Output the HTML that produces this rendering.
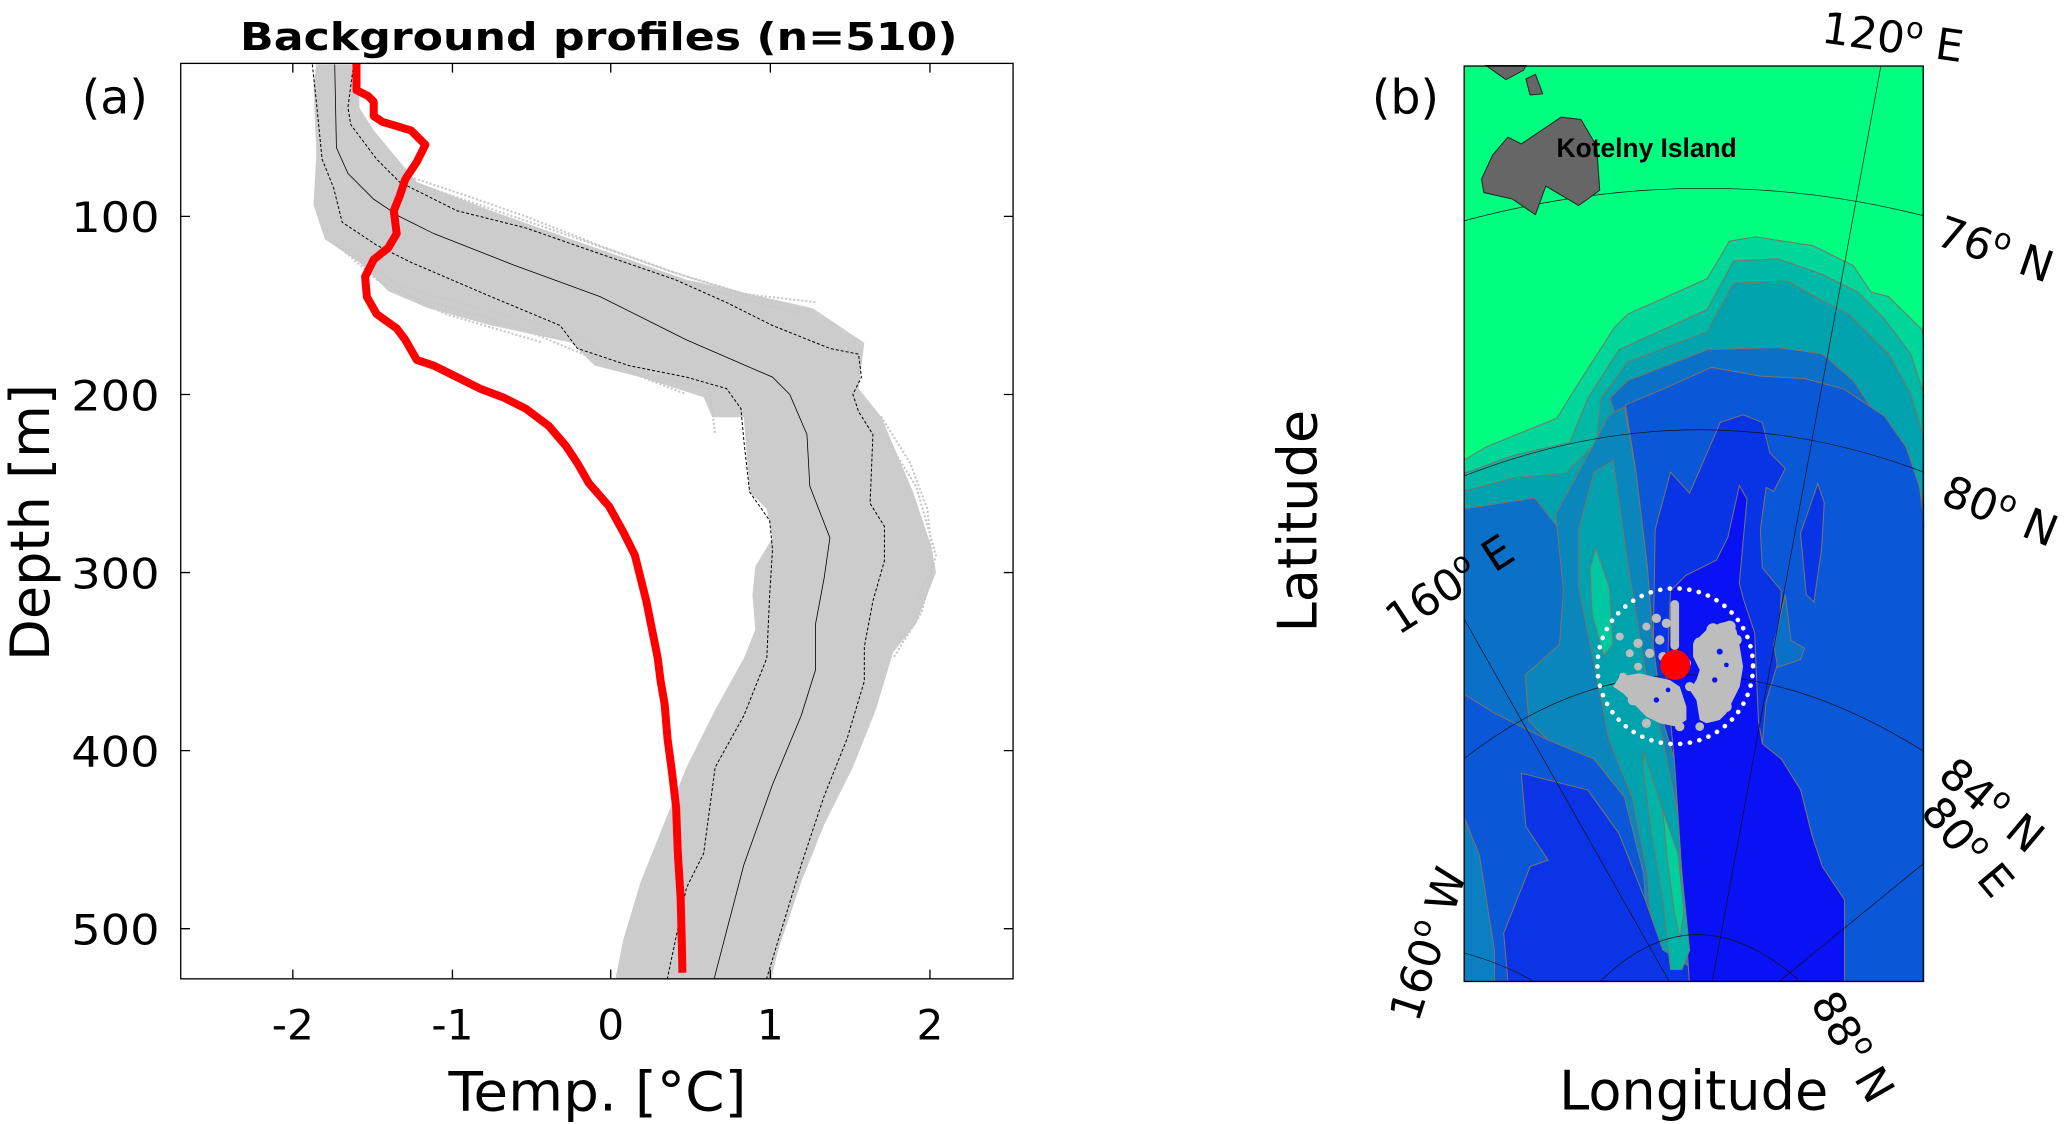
<!DOCTYPE html>
<html><head><meta charset="utf-8"><style>html,body{margin:0;padding:0;background:#fff}svg{display:block}</style></head>
<body>
<svg width="2067" height="1124" viewBox="0 0 1567 852" xmlns="http://www.w3.org/2000/svg" font-family="'DejaVu Sans','Liberation Sans',sans-serif">
<rect width="1567" height="852" fill="#fff"/>
<defs>
<clipPath id="ca"><rect x="137" y="48" width="631" height="694"/></clipPath>
<clipPath id="cb"><rect x="220" y="-613" width="1203" height="2395"/></clipPath>
</defs>
<g clip-path="url(#ca)">
<g transform="translate(128.9,37.9) scale(0.435)">
<polygon fill="#cccccc" points="255,25 250,60 255,180 250,270 270,330 330,370 350,390 380,420 450,450 560,480 700,510 740,550 820,570 930,605 945,640 1000,640 1010,770 1040,800 1050,850 1020,900 1015,950 1020,1010 1000,1060 950,1150 900,1250 860,1350 820,1450 790,1550 770,1650 1040,1650 1060,1568 1100,1450 1140,1350 1190,1250 1230,1150 1260,1050 1300,1000 1335,910 1325,860 1295,770 1265,700 1240,640 1200,590 1210,510 1120,450 900,400 700,330 560,280 430,230 355,140 330,100 330,25"/>
<g fill="none" stroke="#c8c8c8" stroke-width="4" stroke-dasharray="0.1,7" stroke-linecap="round" vector-effect="non-scaling-stroke">
<polyline points="400,215 520,255 620,290 760,345 900,395 1000,425 1130,440"/>
<polyline points="420,230 540,270 700,325 870,385 1050,440"/>
<polyline points="440,245 600,300 780,365 950,420 1100,460"/>
<polyline points="300,340 400,410 500,440 700,490 800,560 940,590 950,670"/>
<polyline points="330,360 420,430 600,480 720,530 900,600"/>
<polyline points="280,330 360,400 480,460 650,510"/>
<polyline points="1240,640 1290,720 1320,800 1330,900 1300,960"/>
<polyline points="1250,680 1300,760 1335,880 1310,980 1260,1060"/>
</g>
<polyline fill="none" stroke="#000" stroke-width="1" vector-effect="non-scaling-stroke" stroke-dasharray="3,2" points="248,25 255,90 265,190 285,240 300,300 360,340 420,370 560,430 680,480 710,520 800,550 900,570 970,590 995,625 1000,680 1010,770 1045,820 1050,870 1045,950 1040,1060 1000,1160 950,1250 930,1400 900,1460 860,1650"/>
<polyline fill="none" stroke="#000" stroke-width="1" vector-effect="non-scaling-stroke" stroke-dasharray="3,2" points="320,25 310,100 315,130 360,190 400,230 500,280 620,310 720,345 880,400 970,440 1050,480 1150,520 1200,530 1205,570 1190,600 1200,630 1225,670 1220,790 1245,830 1245,890 1225,960 1210,1040 1210,1100 1180,1200 1140,1300 1100,1420 1030,1650"/>
<polyline fill="none" stroke="#000" stroke-width="0.8" vector-effect="non-scaling-stroke" points="287,25 290,170 310,215 355,260 400,290 460,320 600,375 750,430 850,480 900,505 1050,570 1080,600 1110,670 1115,760 1150,850 1140,920 1125,1000 1125,1080 1100,1160 1050,1280 1000,1420 940,1650"/>
<polyline fill="none" stroke="#ff0000" stroke-width="8" stroke-linejoin="round" vector-effect="non-scaling-stroke" points="325,20 325,70 345,80 355,90 355,115 370,125 420,140 445,165 430,195 410,225 400,255 390,280 395,320 380,345 355,365 340,395 343,430 360,460 395,485 410,505 430,540 460,550 500,570 540,590 580,605 620,625 660,655 690,690 710,720 730,755 765,795 790,840 810,880 820,920 830,960 840,1010 850,1060 855,1100 862,1140 867,1200 875,1260 882,1320 885,1400 890,1480 892,1560 893,1608"/>
</g></g>
<rect x="137" y="48" width="631" height="694" fill="none" stroke="#000" stroke-width="1"/>
<g stroke="#000" stroke-width="1">
<path d="M222,742v-7M343,742v-7M463,742v-7M584,742v-7M705,742v-7M222,48v7M343,48v7M463,48v7M584,48v7M705,48v7"/>
<path d="M137,164h7M137,299h7M137,434h7M137,569h7M137,704h7M768,164h-7M768,299h-7M768,434h-7M768,569h-7M768,704h-7"/>
</g>
<g font-size="32" fill="#000">
<text x="54" y="176" textLength="67" lengthAdjust="spacingAndGlyphs">100</text>
<text x="54" y="311" textLength="67" lengthAdjust="spacingAndGlyphs">200</text>
<text x="54" y="446" textLength="67" lengthAdjust="spacingAndGlyphs">300</text>
<text x="54" y="581" textLength="67" lengthAdjust="spacingAndGlyphs">400</text>
<text x="54" y="716" textLength="67" lengthAdjust="spacingAndGlyphs">500</text>
</g>
<g font-size="32" text-anchor="middle" fill="#000">
<text x="222" y="788">-2</text><text x="343" y="788">-1</text><text x="463" y="788">0</text><text x="584" y="788">1</text><text x="705" y="788">2</text>
</g>
<text x="340" y="842" font-size="41" textLength="226" lengthAdjust="spacingAndGlyphs">Temp. [°C]</text>
<text transform="translate(37,396) rotate(-90)" font-size="41" text-anchor="middle">Depth [m]</text>
<text x="182" y="38" font-size="29" font-weight="bold" textLength="544" lengthAdjust="spacingAndGlyphs">Background profiles (n=510)</text>
<text x="62" y="86" font-size="36">(a)</text>
<text x="1040" y="86" font-size="36">(b)</text>
<g transform="translate(1046,227.4) scale(0.29)">
<g clip-path="url(#cb)">
<rect x="220" y="-613" width="1203" height="2395" fill="#00ff80"/>
<g stroke="#7d7465" stroke-width="1">
<polygon fill="#00d69a" vector-effect="non-scaling-stroke" points="220,419 278,384 463,309 509,234 613,72 648,37 856,-56 914,-154 983,-165 1133,-142 1238,-90 1284,-21 1330,-9 1417,77 1426,130 1426,1790 220,1790"/>
<polygon fill="#00b8a6" vector-effect="non-scaling-stroke" points="220,453 347,407 497,372 544,257 625,130 856,25 925,-102 1041,-108 1157,-67 1249,-21 1319,49 1388,141 1426,257 1426,1790 220,1790"/>
<polygon fill="#00a2ae" vector-effect="non-scaling-stroke" points="220,500 347,465 486,453 567,372 578,257 648,162 856,83 925,-44 1064,-50 1157,2 1226,37 1330,141 1388,245 1426,372 1426,1790 220,1790"/>
<polygon fill="#0a70c8" vector-effect="non-scaling-stroke" points="220,546 405,517 470,600 480,760 470,900 380,980 390,1100 440,1150 500,1270 580,1380 640,1500 700,1790 220,1790"/>
<polygon fill="#0a70c8" vector-effect="non-scaling-stroke" points="601,257 648,211 856,130 1041,124 1157,141 1238,211 1307,315 1388,419 1426,546 1426,1790 810,1790 790,1500 770,1200 740,1100 715,900 700,700 670,450"/>
<polygon fill="#0a86bc" vector-effect="non-scaling-stroke" points="460,560 520,450 600,300 640,280 670,450 700,700 715,900 740,1100 770,1200 790,1500 810,1790 700,1790 640,1500 580,1380 500,1270 440,1150 390,1100 380,980 470,900 480,760"/>
<polygon fill="#00a2ae" vector-effect="non-scaling-stroke" points="520,600 560,450 610,420 650,700 700,1000 740,1150 790,1400 800,1790 720,1790 700,1500 660,1300 600,1150 560,950 520,750"/>
<polygon fill="#0a58d8" vector-effect="non-scaling-stroke" points="642,274 740,233 867,176 995,199 1110,205 1214,233 1319,303 1376,384 1411,488 1426,604 1426,1790 810,1790 790,1500 770,1200 740,1100 715,900 700,700 670,450"/>
<polygon fill="#0a58d8" vector-effect="non-scaling-stroke" points="220,1030 300,1080 440,1150 560,1200 640,1300 690,1500 710,1790 220,1790"/>
<polygon fill="#0a34e6" vector-effect="non-scaling-stroke" points="370,1237 544,1281 625,1394 694,1568 740,1699 810,1742 833,1790 336,1790 324,1655 393,1481 440,1464 382,1376"/>
<polygon fill="#0a80c2" vector-effect="non-scaling-stroke" points="220,1350 260,1450 300,1700 300,1790 220,1790"/>
<polygon fill="#0834e6" vector-effect="non-scaling-stroke" points="720,600 760,450 810,505 890,320 950,300 1000,320 1020,400 1060,440 1030,500 1010,490 995,600 1000,700 1050,760 1040,950 1010,1050 1000,1160 1050,1200 1100,1280 1130,1400 1140,1568 1150,1790 810,1790 790,1500 770,1200 740,1100 715,900"/>
<polygon fill="#0812f4" vector-effect="non-scaling-stroke" points="940,485 960,520 940,740 950,780 980,870 990,1100 1000,1160 1050,1200 1100,1280 1130,1400 1157,1481 1215,1568 1215,1790 810,1790 790,1500 770,1200 760,1100 750,1000 760,760 800,720 880,680 910,620"/>
<polygon fill="#0834e6" vector-effect="non-scaling-stroke" points="1145,480 1162,530 1155,650 1135,790 1115,770 1100,610"/>
<polygon fill="#0a70c8" vector-effect="non-scaling-stroke" points="1060,770 1075,890 1110,910 1100,940 1040,960 1030,900"/>
<polygon fill="#00c8a0" vector-effect="non-scaling-stroke" points="565,650 600,750 610,900 585,930 555,820 550,700"/>
<polygon fill="#00b4a8" vector-effect="non-scaling-stroke" points="690,1180 740,1333 790,1500 810,1700 790,1750 760,1750 740,1568 710,1394 688,1220"/>
<polygon fill="#00d09c" vector-effect="non-scaling-stroke" points="740,1333 780,1450 795,1600 785,1670 770,1600 750,1450"/>
</g>
<g fill="none" stroke="#111" stroke-width="0.7" vector-effect="non-scaling-stroke">
<path d="M202,-202 Q833,-376 1446,-214" vector-effect="non-scaling-stroke"/>
<path d="M195,470 Q820,216 1435,455" vector-effect="non-scaling-stroke"/>
<path d="M200,1215 Q760,760 1430,1185" vector-effect="non-scaling-stroke"/>
<path d="M553,1805 Q824,1513 1124,1805" vector-effect="non-scaling-stroke"/>
<path d="M202,1702 Q346,1739 438,1805" vector-effect="non-scaling-stroke"/>
<path d="M1314,-633 L865,1805" vector-effect="non-scaling-stroke"/>
<path d="M210,815 L770,1805" vector-effect="non-scaling-stroke"/>
<path d="M1015,1805 L1441,1457" vector-effect="non-scaling-stroke"/>
</g>
</g>
<g fill="#666" stroke="#222" stroke-width="1">
<polygon vector-effect="non-scaling-stroke" points="266,-316 295,-379 335,-426 370,-408 474,-478 526,-472 567,-402 575,-287 520,-247 434,-298 407,-223 347,-264 272,-281"/>
<polygon vector-effect="non-scaling-stroke" points="278,-613 382,-613 376,-601 330,-576 306,-593"/>
<polygon vector-effect="non-scaling-stroke" points="382,-578 407,-590 426,-539 393,-536"/>
</g>
</g>
<rect x="1110" y="50" width="348" height="694" fill="none" stroke="#000" stroke-width="1"/>
<g transform="translate(1197.6,439.6) scale(0.2527)" fill="#bdbdbd">
<polygon points="340,190 380,150 420,130 440,125 470,150 480,200 490,260 480,320 460,360 440,400 420,420 380,430 360,420 350,360 330,330 350,300 360,270 340,230"/>
<polygon points="120,290 180,280 220,290 270,300 300,320 320,380 320,420 290,440 240,430 200,410 170,380 130,340 100,320"/>
<rect x="272" y="60" width="26" height="150" rx="13"/>
<circle cx="230" cy="115" r="14"/><circle cx="260" cy="130" r="14"/><circle cx="200" cy="140" r="12"/><circle cx="120" cy="170" r="12"/>
<circle cx="175" cy="190" r="14"/><circle cx="240" cy="180" r="14"/><circle cx="150" cy="220" r="12"/><circle cx="210" cy="220" r="14"/>
<circle cx="250" cy="230" r="14"/><circle cx="130" cy="290" r="12"/><circle cx="330" cy="320" r="14"/><circle cx="360" cy="440" r="13"/>
<circle cx="400" cy="150" r="20"/><circle cx="450" cy="140" r="18"/><circle cx="470" cy="180" r="16"/><circle cx="360" cy="190" r="18"/>
<circle cx="320" cy="250" r="14"/><circle cx="300" cy="400" r="16"/><circle cx="250" cy="400" r="16"/><circle cx="200" cy="430" r="14"/>
<circle cx="160" cy="360" r="16"/><circle cx="220" cy="350" r="14"/><circle cx="390" cy="380" r="18"/><circle cx="440" cy="380" r="16"/>
<circle cx="300" cy="440" r="14"/><circle cx="175" cy="260" r="12"/>
<g fill="#0812f4"><circle cx="420" cy="215" r="9"/><circle cx="405" cy="300" r="8"/><circle cx="440" cy="255" r="7"/><circle cx="230" cy="360" r="8"/><circle cx="265" cy="330" r="7"/></g>
</g>
<circle cx="1270" cy="505" r="59" fill="none" stroke="#fff" stroke-width="3.5" stroke-dasharray="0.1,7.3" stroke-linecap="round"/>
<circle cx="1270" cy="504" r="11.4" fill="#ff0000"/>
<text x="1180" y="119" font-size="20" font-weight="bold" font-family="'Liberation Sans',sans-serif">Kotelny Island</text>
<g font-size="33" fill="#000">
<text transform="translate(1380,32) rotate(8)">120<tspan dy="-13" font-size="22">o</tspan><tspan dy="13"> E</tspan></text>
<text transform="translate(1466,185) rotate(19)">76<tspan dy="-13" font-size="22">o</tspan><tspan dy="13"> N</tspan></text>
<text transform="translate(1470,381) rotate(22)">80<tspan dy="-13" font-size="22">o</tspan><tspan dy="13"> N</tspan></text>
<text transform="translate(1060,482) rotate(-33)">160<tspan dy="-13" font-size="22">o</tspan><tspan dy="13"> E</tspan></text>
<text transform="translate(1468,590) rotate(40)">84<tspan dy="-13" font-size="22">o</tspan><tspan dy="13"> N</tspan></text>
<text transform="translate(1455,616) rotate(50)">80<tspan dy="-13" font-size="22">o</tspan><tspan dy="13"> E</tspan></text>
<text transform="translate(1075,776) rotate(-72)">160<tspan dy="-13" font-size="22">o</tspan><tspan dy="13"> W</tspan></text>
<text transform="translate(1372,760) rotate(60)">88<tspan dy="-13" font-size="22">o</tspan><tspan dy="13"> N</tspan></text>
</g>
<text x="1182" y="841" font-size="41" textLength="204" lengthAdjust="spacingAndGlyphs">Longitude</text>
<text transform="translate(998,395) rotate(-90)" font-size="41" text-anchor="middle">Latitude</text>
</svg>
</body></html>
